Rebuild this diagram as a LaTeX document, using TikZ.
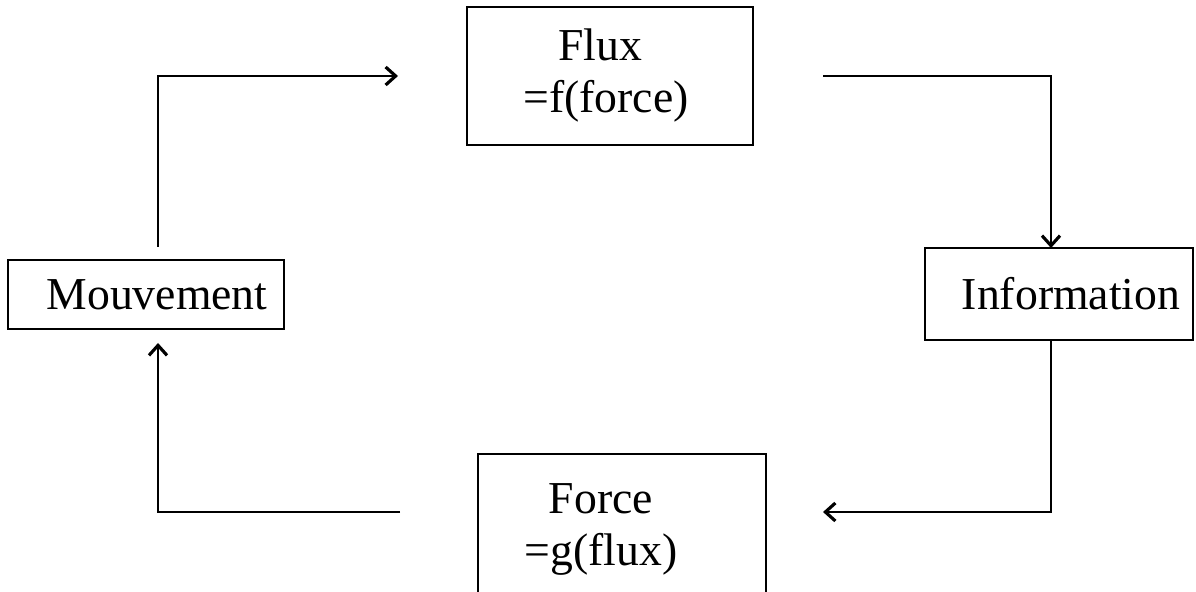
\documentclass[tikz,border=0pt]{standalone}
\usepackage{fontspec}
\setmainfont{Liberation Serif}
\usetikzlibrary{arrows.meta,positioning}

\tikzset{
  block/.style={draw, line width=0.8pt, inner sep=0pt, outer sep=0pt, align=center,
    font=\fontsize{26}{29.6}\selectfont},
  flow/.style={line width=0.8pt, -{Straight Barb[length=2mm,width=3.6mm,line width=1.8pt]}}
}

\begin{document}
\begin{tikzpicture}
        \useasboundingbox (0,0) rectangle (23.92,-11.84);

        % boxes
        \node[block, minimum width=5.72cm, minimum height=2.76cm] (flux) at (12.2,-1.52) {Flux\hspace*{0.4cm}\\=f(force)\hspace*{0.16cm}};
        \node[block, minimum width=5.36cm, minimum height=1.84cm] (info) at (21.18,-5.88) {\hspace*{0.48cm}Information};
        \node[block, minimum width=5.52cm, minimum height=1.38cm] (mouv) at (2.92,-5.89) {\hspace*{0.44cm}Mouvement};
        \node[block, minimum width=5.76cm, minimum height=3cm] (force) at (12.44,-10.58) {Force\hspace*{0.84cm}\\=g(flux)\hspace*{0.84cm}};

        % arrows round the loop
        \draw[flow] ([xshift=0.24cm,yshift=0.26cm]mouv.north) |- ([xshift=-1.38cm]flux.west);
        \draw[flow] ([xshift=1.4cm]flux.east) -| ([xshift=-0.16cm]info.north);
        \draw[flow] ([xshift=-0.16cm]info.south) |- ([xshift=1.14cm,yshift=0.34cm]force.east);
        \draw[flow] ([xshift=-1.56cm,yshift=0.34cm]force.west) -| ([xshift=0.24cm,yshift=-0.28cm]mouv.south);

    \end{tikzpicture}
\end{document}
